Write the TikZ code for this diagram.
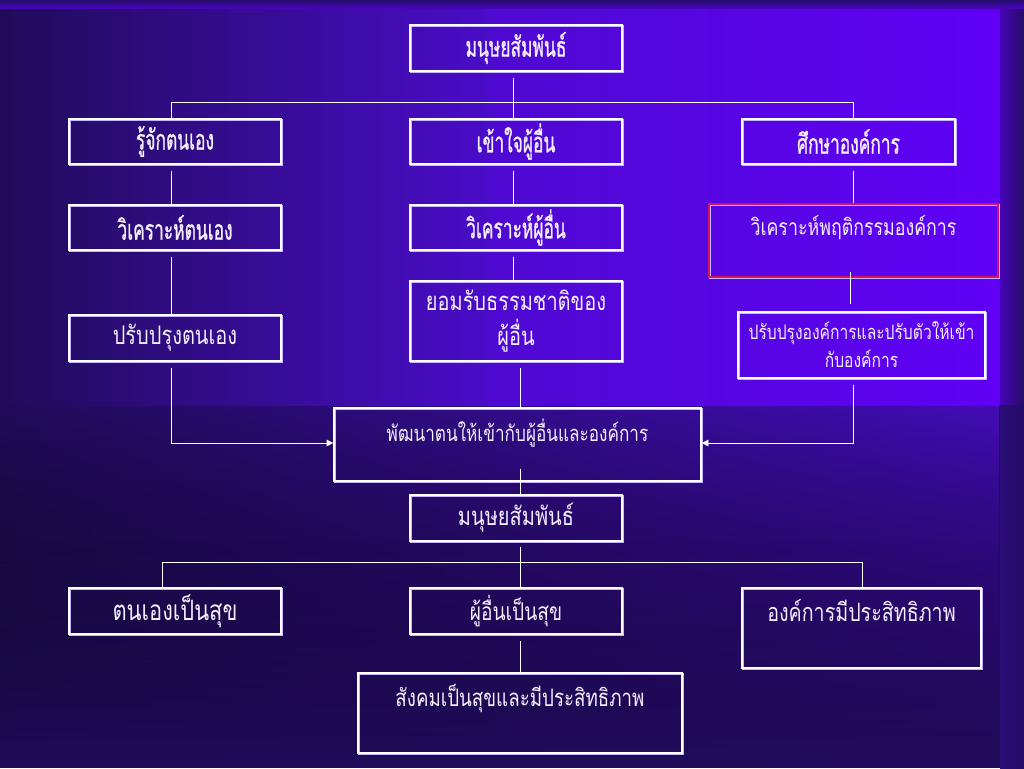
\documentclass[tikz,border=0pt]{standalone}
\usepackage{fontspec}
\newfontfamily\thai[Script=Thai,FakeStretch=0.78]{Loma}
\newfontfamily\thaib[Script=Thai,FakeStretch=0.62,FakeBold=0.8]{Loma}
\usetikzlibrary{arrows.meta,calc,fadings}
\definecolor{bgdark}{HTML}{200C5A}
\definecolor{bgmid}{HTML}{3A10A6}
\definecolor{bright}{HTML}{6000F6}
\definecolor{brightL}{HTML}{4A0CC8}
\definecolor{lav}{HTML}{C8B4FF}
\definecolor{redb}{HTML}{D8105E}
\definecolor{txt}{HTML}{F4EEFF}
\tikzfading[name=fadedown, top color=transparent!0, bottom color=transparent!100]
\tikzset{
  box/.style={draw=white, line width=1.1pt, inner sep=0pt, text=txt, align=center,
    font=\thai\fontsize{19.2}{26}\selectfont,
    preaction={draw=lav, line width=1.1pt, transform canvas={shift={(0.8pt,-0.8pt)}}}},
  boldbox/.style={box, font=\thaib\fontsize{21}{26}\selectfont},
  conn/.style={draw=white, line width=0.6pt},
  arr/.style={conn, -{Triangle[length=5pt,width=5pt]}}
}
\begin{document}
\begin{tikzpicture}[x=0.75pt,y=-0.75pt]
% background
\fill[bgdark] (0,0) rectangle (1024,768);
\fill[left color=bgdark, right color=brightL!85!bgdark, path fading=fadedown] (0,405) rectangle (1000,768);
\fill[left color=bgdark, right color=brightL] (0,8) rectangle (490,405);
\fill[left color=brightL!80!bright, right color=bright] (490,8) rectangle (1000,405);
\fill[left color=bright!60!bgdark, right color=bgdark!85!bgmid] (1000,8) rectangle (1024,405);
\fill[left color=bgdark!60!bgmid, right color=bgdark!85!bgmid] (1000,405) rectangle (1024,768);
\fill[top color=bgdark!70!bgmid, bottom color=bgdark!40!bright] (0,0) rectangle (1024,8);
\useasboundingbox (0,0) rectangle (1024,768);

% nodes
\node[boldbox, minimum width=212*0.75pt, minimum height=46*0.75pt] (top) at (516,48) {มนุษยสัมพันธ์};
\node[boldbox, minimum width=212*0.75pt, minimum height=45*0.75pt] (r2a) at (175,141.5) {รู้จักตนเอง};
\node[boldbox, minimum width=212*0.75pt, minimum height=45*0.75pt] (r2b) at (516,141.5) {เข้าใจผู้อื่น};
\node[boldbox, minimum width=213*0.75pt, minimum height=45*0.75pt] (r2c) at (848.5,141.5) {ศึกษาองค์การ};
\node[boldbox, minimum width=212*0.75pt, minimum height=45*0.75pt] (r3a) at (175,227.5) {วิเคราะห์ตนเอง};
\node[boldbox, minimum width=212*0.75pt, minimum height=45*0.75pt] (r3b) at (516,227.5) {วิเคราะห์ผู้อื่น};
\node[box, draw=redb, preaction={draw=none}, minimum width=289*0.75pt, minimum height=73*0.75pt, text depth=22pt, font=\thai\fontsize{17.1}{24}\selectfont] (r3c) at (853.5,240.5) {วิเคราะห์พฤติกรรมองค์การ};
\node[box, minimum width=212*0.75pt, minimum height=46*0.75pt] (r4a) at (175,338) {ปรับปรุงตนเอง};
\node[box, minimum width=212*0.75pt, minimum height=80*0.75pt] (r4b) at (516,321) {ยอมรับธรรมชาติของ\\ผู้อื่น};
\node[box, minimum width=247*0.75pt, minimum height=66*0.75pt, font=\thai\fontsize{15}{21}\selectfont] (r4c) at (861.5,345) {ปรับปรุงองค์การและปรับตัวให้เข้า\\กับองค์การ};
\node[box, minimum width=367*0.75pt, minimum height=73*0.75pt, text depth=22pt, font=\thai\fontsize{16.5}{24}\selectfont] (mid) at (517.5,444.5) {พัฒนาตนให้เข้ากับผู้อื่นและองค์การ};
\node[box, minimum width=212*0.75pt, minimum height=46*0.75pt] (hr) at (516,518) {มนุษยสัมพันธ์};
\node[box, minimum width=212*0.75pt, minimum height=46*0.75pt, font=\thai\fontsize{21}{26}\selectfont] (b1) at (175,611) {ตนเองเป็นสุข};
\node[box, minimum width=212*0.75pt, minimum height=46*0.75pt, font=\thai\fontsize{18.4}{26}\selectfont] (b2) at (516,611) {ผู้อื่นเป็นสุข};
\node[box, minimum width=239*0.75pt, minimum height=80*0.75pt, text depth=26pt, font=\thai\fontsize{18.9}{26}\selectfont] (b3) at (861.5,628) {องค์การมีประสิทธิภาพ};
\node[box, minimum width=324*0.75pt, minimum height=80*0.75pt, text depth=26pt, font=\thai\fontsize{18}{26}\selectfont] (soc) at (520,713) {สังคมเป็นสุขและมีประสิทธิภาพ};

% connectors
\draw[conn] ($(top.south)+(-3,6)$) -- ++(0,25) coordinate (bus1);
\draw[conn] ($(r2a.north)+(-4,0)$) |- (bus1) -| ($(r2c.north)+(4.5,0)$);
\draw[conn] (bus1) -- ($(r2b.north)+(-3,0)$);
\draw[conn] ($(r2a.south)+(-4,6)$) -- ($(r3a.north)+(-4,0)$);
\draw[conn] ($(r2b.south)+(-3,6)$) -- ($(r3b.north)+(-3,0)$);
\draw[conn] ($(r2c.south)+(4.5,6)$) -- ($(r3c.north)+(-0.5,0)$);
\draw[conn] ($(r3a.south)+(-4,6)$) -- ($(r4a.north)+(-4,0)$);
\draw[conn] ($(r3b.south)+(-3,6)$) -- ($(r4b.north)+(-3,0)$);
\draw[conn] ($(r3c.south)+(-3.5,-6)$) -- ($(r4c.north)+(-11.5,-7)$);
\draw[conn] ($(r4b.south)+(4,6)$) -- ($(mid.north)+(2.5,0)$);
\draw[arr] ($(r4a.south)+(-4,6)$) |- (mid.west |- 0,443);
\draw[arr] ($(r4c.south)+(-8.5,6)$) |- (mid.east |- 0,443);
\draw[conn] ($(mid.south)+(2.5,-13)$) -- ($(hr.north)+(4,0)$);
\draw[conn] ($(hr.south)+(4,5)$) -- ($(b2.north)+(4,0)$);
\draw[conn] ($(b1.north)+(-13,0)$) -- ++(0,-25) -| ($(b3.north)+(0.5,0)$);
\draw[conn] ($(b2.south)+(4,6)$) -- ($(soc.north)+(0,0)$);
\end{tikzpicture}
\end{document}
